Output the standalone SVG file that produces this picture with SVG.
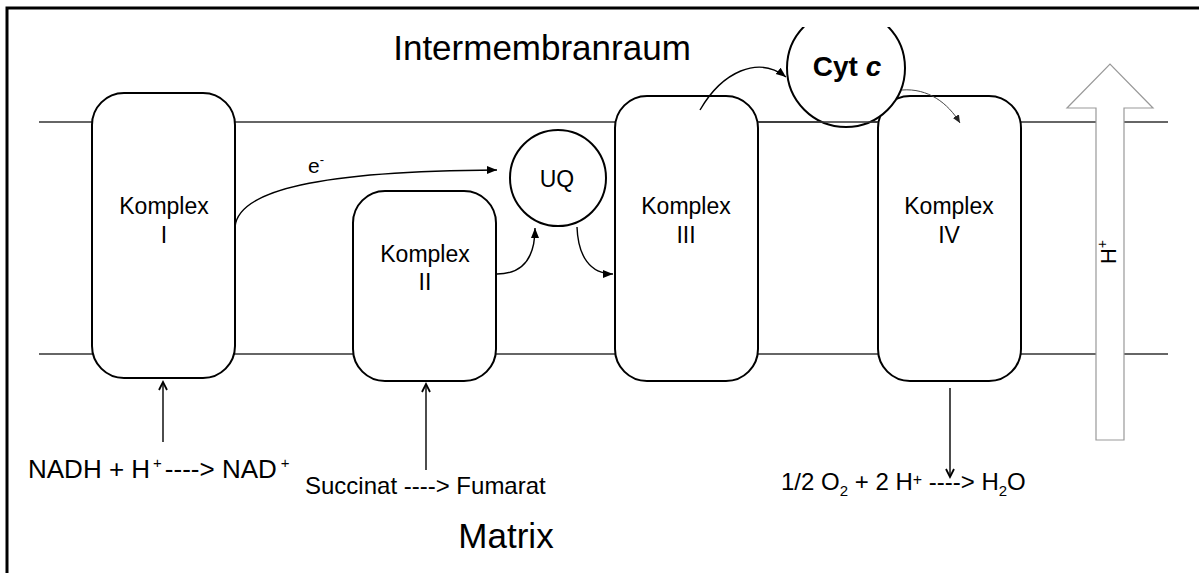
<svg xmlns="http://www.w3.org/2000/svg" width="1199" height="573" viewBox="0 0 1199 573">
<defs>
<style>
text{font-family:"Liberation Sans",Arial,Helvetica,sans-serif;fill:#000}
.box{fill:#fff;stroke:#000;stroke-width:2}
.mem{stroke:#333;stroke-width:1.5;fill:none}
.conn{fill:none;stroke:#000;stroke-width:1.4}
.thin{fill:none;stroke:#444;stroke-width:1}
.lbl{font-size:23px;text-anchor:middle}
.big{font-size:35px;text-anchor:middle}
.eq{font-size:24px}
</style>
<marker id="tri" markerUnits="userSpaceOnUse" markerWidth="12" markerHeight="10" refX="10" refY="4" orient="auto"><path d="M0,0 L10,4 L0,8 Z" fill="#000"/></marker>
<marker id="trig" markerUnits="userSpaceOnUse" markerWidth="10" markerHeight="8" refX="8" refY="3.5" orient="auto"><path d="M0,0 L8,3.5 L0,7 Z" fill="#222"/></marker>
<marker id="vee" markerUnits="userSpaceOnUse" markerWidth="12" markerHeight="12" refX="9" refY="5" orient="auto"><path d="M1,1 L9,5 L1,9" fill="none" stroke="#000" stroke-width="1.8"/></marker>
<clipPath id="cytclip"><rect x="700" y="27" width="300" height="200"/></clipPath>
</defs>
<rect width="1199" height="573" fill="#fff"/>
<path d="M7,573 V8 H1199" fill="none" stroke="#000" stroke-width="3"/>

<g id="membrane" class="mem">
<line x1="39" y1="122" x2="1168" y2="122"/>
<line x1="39" y1="354" x2="1168" y2="354"/>
</g>

<g id="hplus-arrow">
<polygon points="1096,440 1096,108 1067,108 1110,64 1153,108 1124,108 1124,440" fill="#fff" stroke="#999" stroke-width="1.2"/>
<text transform="translate(1116,252) rotate(-90)" font-size="22" text-anchor="middle">H<tspan font-size="14" dy="-9">+</tspan></text>
</g>

<text x="542" y="60" class="big">Intermembranraum</text>
<text x="506" y="548" class="big">Matrix</text>

<g id="komplex1">
<rect class="box" x="92" y="93" width="143" height="285" rx="32"/>
<text class="lbl" x="164" y="214">Komplex</text>
<text class="lbl" x="164" y="243">I</text>
</g>
<g id="komplex2">
<rect class="box" x="353" y="191" width="143" height="190" rx="32"/>
<text class="lbl" x="425" y="262">Komplex</text>
<text class="lbl" x="425" y="290">II</text>
</g>
<g id="uq">
<circle cx="558" cy="178" r="48" fill="#fff" stroke="#000" stroke-width="2"/>
<text class="lbl" x="557" y="187">UQ</text>
</g>
<g id="komplex3">
<rect class="box" x="615" y="96" width="143" height="285" rx="32"/>
<text class="lbl" x="686" y="214">Komplex</text>
<text class="lbl" x="686" y="243">III</text>
</g>
<g id="komplex4">
<rect class="box" x="878" y="96" width="143" height="285" rx="32"/>
<text class="lbl" x="949" y="214">Komplex</text>
<text class="lbl" x="949" y="243">IV</text>
</g>
<g id="cytc">
<circle cx="846" cy="68" r="59" fill="#fff" stroke="#000" stroke-width="2" clip-path="url(#cytclip)"/>
<text x="847" y="76" font-size="28" font-weight="bold" text-anchor="middle">Cyt <tspan font-style="italic">c</tspan></text>
</g>
<line class="mem" x1="758" y1="122" x2="878" y2="122"/>

<g id="connectors">
<path class="conn" d="M235,227 C238,190 320,171 497,170" marker-end="url(#tri)"/>
<path class="conn" d="M497,274 C525,274 535,256 535,228" marker-end="url(#tri)"/>
<path class="conn" d="M577,227 C578,256 590,274 613,274" marker-end="url(#tri)"/>
<path class="conn" d="M700,110 C722,72 758,55 786,77" marker-end="url(#tri)"/>
<path class="thin" d="M902,90 C928,88 948,103 960,123" marker-end="url(#trig)"/>
<path class="conn" d="M163,442 V382" marker-end="url(#vee)"/>
<path class="conn" d="M426,470 V384" marker-end="url(#vee)"/>
<path class="conn" d="M950,388 V477" marker-end="url(#vee)"/>
</g>

<text x="308" y="173" font-size="21">e<tspan font-size="13" dy="-9">-</tspan></text>
<text x="28" y="478" font-size="26">NADH + H<tspan font-size="15" dy="-10" dx="3">+</tspan><tspan dy="10" dx="3">----&gt; NAD</tspan><tspan font-size="15" dy="-10" dx="4">+</tspan></text>
<text x="305" y="494" font-size="24">Succinat ----&gt; Fumarat</text>
<text x="781" y="490" class="eq">1/2 O<tspan font-size="15" dy="6">2</tspan><tspan dy="-6"> + 2 H</tspan><tspan font-size="16" dy="-5">+</tspan><tspan dy="5"> ----&gt; H</tspan><tspan font-size="15" dy="6">2</tspan><tspan dy="-6">O</tspan></text>
</svg>
